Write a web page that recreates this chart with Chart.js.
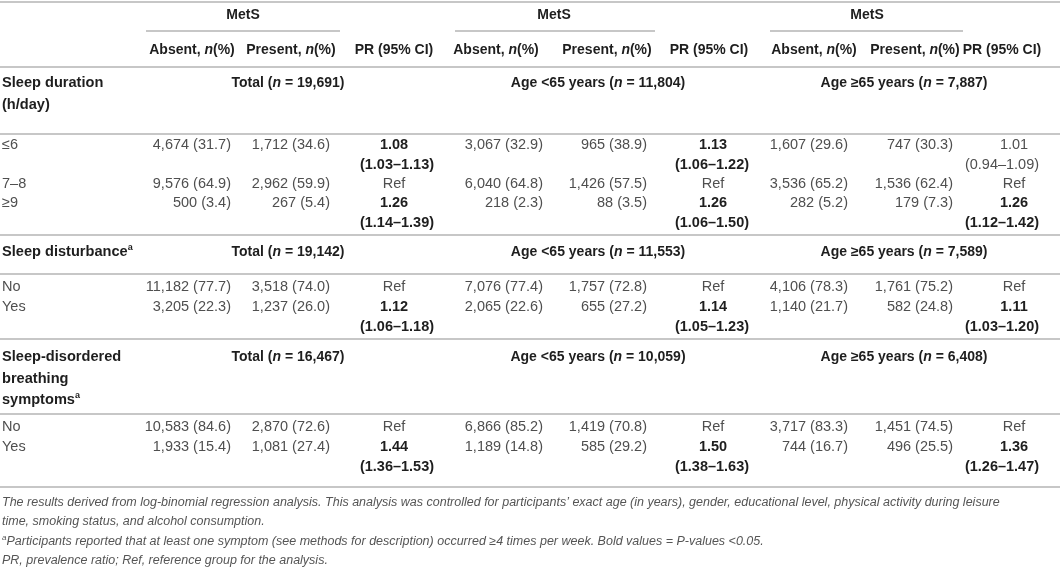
<!DOCTYPE html>
<html>
<head>
<meta charset="utf-8">
<script src="https://cdn.jsdelivr.net/npm/chart.js@4.4.0/dist/chart.umd.min.js"></script>
<style>
html, body { margin: 0; padding: 0; background: #fff; }
#tabela { display: block; }
</style>
</head>
<body>
<canvas id="tabela" width="1060" height="567"></canvas>
<script>
// age groups and sections of the table
const groups = ['Total', 'Age <65 years', 'Age \u226565 years'];
const sections = [['Sleep duration', '(h/day)'], ['Sleep disturbance^a'], ['Sleep-disordered', 'breathing', 'symptoms^a']];
const sectionN = [[19691, 11804, 7887], [19142, 11553, 7589], [16467, 10059, 6408]];
const categories = ['\u22646', '7\u20138', '\u22659', 'No', 'Yes', 'No', 'Yes'];
const rowSection = [0, 0, 0, 1, 1, 2, 2];

// one array per group, one value per category row
const absentN = [[4674, 9576, 500, 11182, 3205, 10583, 1933], [3067, 6040, 218, 7076, 2065, 6866, 1189], [1607, 3536, 282, 4106, 1140, 3717, 744]];
const absentPct = [[31.7, 64.9, 3.4, 77.7, 22.3, 84.6, 15.4], [32.9, 64.8, 2.3, 77.4, 22.6, 85.2, 14.8], [29.6, 65.2, 5.2, 78.3, 21.7, 83.3, 16.7]];
const presentN = [[1712, 2962, 267, 3518, 1237, 2870, 1081], [965, 1426, 88, 1757, 655, 1419, 585], [747, 1536, 179, 1761, 582, 1451, 496]];
const presentPct = [[34.6, 59.9, 5.4, 74.0, 26.0, 72.6, 27.4], [38.9, 57.5, 3.5, 72.8, 27.2, 70.8, 29.2], [30.3, 62.4, 7.3, 75.2, 24.8, 74.5, 25.5]];
const pr = [[1.08, null, 1.26, null, 1.12, null, 1.44], [1.13, null, 1.26, null, 1.14, null, 1.50], [1.01, null, 1.26, null, 1.11, null, 1.36]];
const prLow = [[1.03, null, 1.14, null, 1.06, null, 1.36], [1.06, null, 1.06, null, 1.05, null, 1.38], [0.94, null, 1.12, null, 1.03, null, 1.26]];
const prHigh = [[1.13, null, 1.39, null, 1.18, null, 1.53], [1.22, null, 1.50, null, 1.23, null, 1.63], [1.09, null, 1.42, null, 1.20, null, 1.47]];

const footnotes = [
    [{ t: 'The results derived from log-binomial regression analysis. This analysis was controlled for participants\u2019 exact age (in years), gender, educational level, physical activity during leisure' }],
    [{ t: 'time, smoking status, and alcohol consumption.' }],
    [{ t: 'a', sup: true }, { t: 'Participants reported that at least one symptom (see methods for description) occurred \u22654 times per week. Bold values = ' }, { t: 'P' }, { t: '-values <0.05.' }],
    [{ t: 'PR, prevalence ratio; Ref, reference group for the analysis.' }]
];

// layout (in scale units = pixels)
const FAM = '"Liberation Sans", Arial, sans-serif';
const absentRight = [231, 543, 848];
const presentRight = [330, 647, 953];
const prCenter = [394, 713, 1014];
const ciCenter = [397, 712, 1002];
const metsCenter = [243, 554, 867];
const groupCenter = [288, 598, 904];
const headCenters = [[192, 291, 394], [496, 607, 709], [814, 915, 1002]];
const rowY = [145, 184, 203, 287, 307, 427, 447];
const sectionY = [83, 252, 357];
const ruleY = [67, 134, 235, 274, 339, 414, 487];
const footY = [503, 522, 542, 561];

const fmtN = (n, p) => n.toLocaleString('en-US') + ' (' + p.toFixed(1) + ')';

function drawRich(ctx, parts, x, y, align) {
    let w = 0;
    parts.forEach(p => { ctx.font = p.font; w += ctx.measureText(p.t).width; });
    let cx = align === 'center' ? x - w / 2 : align === 'right' ? x - w : x;
    parts.forEach(p => {
        ctx.font = p.font;
        ctx.fillStyle = p.color;
        ctx.fillText(p.t, cx, y + (p.dy || 0));
        cx += ctx.measureText(p.t).width;
    });
}

const tablePlugin = {
    id: 'tablePlugin',
    afterDraw(chart) {
        const ctx = chart.ctx;
        const X = v => chart.scales.x.getPixelForValue(v);
        const Y = v => chart.scales.y.getPixelForValue(v);
        const dark = '#1e1e1e', light = '#4f4f4f';
        const bold = 'bold 14px ' + FAM, boldIt = 'italic bold 14px ' + FAM;
        const secFont = 'bold 14.6px ' + FAM;
        const reg = '14.5px ' + FAM, sup = 'bold 9px ' + FAM;

        ctx.save();
        ctx.textBaseline = 'middle';

        // rules
        ctx.strokeStyle = '#b4b4b4';
        ctx.lineWidth = 1.6;
        const hline = (y, a, b) => { ctx.beginPath(); ctx.moveTo(X(a), Y(y)); ctx.lineTo(X(b), Y(y)); ctx.stroke(); };
        hline(2, 0, 1060);
        ruleY.forEach(y => hline(y, 0, 1060));
        [[146, 340], [455, 655], [770, 963]].forEach(s => hline(31, s[0], s[1]));

        // header
        groups.forEach((g, gi) => {
            drawRich(ctx, [{ t: 'MetS', font: bold, color: dark }], X(metsCenter[gi]), Y(15), 'center');
            const hc = headCenters[gi];
            drawRich(ctx, [{ t: 'Absent, ', font: bold, color: dark }, { t: 'n', font: boldIt, color: dark }, { t: '(%)', font: bold, color: dark }], X(hc[0]), Y(50), 'center');
            drawRich(ctx, [{ t: 'Present, ', font: bold, color: dark }, { t: 'n', font: boldIt, color: dark }, { t: '(%)', font: bold, color: dark }], X(hc[1]), Y(50), 'center');
            drawRich(ctx, [{ t: 'PR (95% CI)', font: bold, color: dark }], X(hc[2]), Y(50), 'center');
        });

        // section headers
        sections.forEach((lines, si) => {
            lines.forEach((line, li) => {
                const parts = [];
                if (line.endsWith('^a')) {
                    parts.push({ t: line.slice(0, -2), font: secFont, color: dark });
                    parts.push({ t: 'a', font: sup, color: dark, dy: -4 });
                } else {
                    parts.push({ t: line, font: secFont, color: dark });
                }
                drawRich(ctx, parts, X(2), Y(sectionY[si] + li * 21.5), 'left');
            });
            groups.forEach((g, gi) => {
                drawRich(ctx, [
                    { t: g + ' (', font: bold, color: dark },
                    { t: 'n', font: boldIt, color: dark },
                    { t: ' = ' + sectionN[si][gi].toLocaleString('en-US') + ')', font: bold, color: dark }
                ], X(groupCenter[gi]), Y(sectionY[si]), 'center');
            });
        });

        // data rows
        categories.forEach((c, ri) => {
            const y = rowY[ri];
            drawRich(ctx, [{ t: c, font: reg, color: light }], X(2), Y(y), 'left');
            groups.forEach((g, gi) => {
                drawRich(ctx, [{ t: fmtN(absentN[gi][ri], absentPct[gi][ri]), font: reg, color: light }], X(absentRight[gi]), Y(y), 'right');
                drawRich(ctx, [{ t: fmtN(presentN[gi][ri], presentPct[gi][ri]), font: reg, color: light }], X(presentRight[gi]), Y(y), 'right');
                const v = pr[gi][ri];
                if (v === null) {
                    drawRich(ctx, [{ t: 'Ref', font: reg, color: light }], X(prCenter[gi]), Y(y), 'center');
                } else {
                    // bold = significant (lower bound above 1)
                    const sig = prLow[gi][ri] > 1;
                    const f = sig ? 'bold 14.5px ' + FAM : reg;
                    const col = sig ? dark : light;
                    drawRich(ctx, [{ t: v.toFixed(2), font: f, color: col }], X(prCenter[gi]), Y(y), 'center');
                    drawRich(ctx, [{ t: '(' + prLow[gi][ri].toFixed(2) + '\u2013' + prHigh[gi][ri].toFixed(2) + ')', font: f, color: col }], X(ciCenter[gi]), Y(y + 20), 'center');
                }
            });
        });

        // footnotes
        const foot = 'italic 12.5px ' + FAM;
        footnotes.forEach((parts, fi) => {
            drawRich(ctx, parts.map(p => ({ t: p.t, font: p.sup ? 'italic 8px ' + FAM : foot, color: '#555', dy: p.sup ? -4 : 0 })), X(2), Y(footY[fi]), 'left');
        });

        ctx.restore();
    }
};

const tabela = new Chart(document.getElementById('tabela').getContext('2d'), {
    type: 'scatter',
    data: { datasets: [] },
    options: {
        responsive: false,
        animation: false,
        layout: { padding: 0 },
        scales: {
            x: { type: 'linear', min: 0, max: 1060, display: false },
            y: { type: 'linear', min: 0, max: 567, reverse: true, display: false }
        },
        plugins: {
            legend: { display: false },
            tooltip: { enabled: false }
        }
    },
    plugins: [tablePlugin]
});
</script>
</body>
</html>
